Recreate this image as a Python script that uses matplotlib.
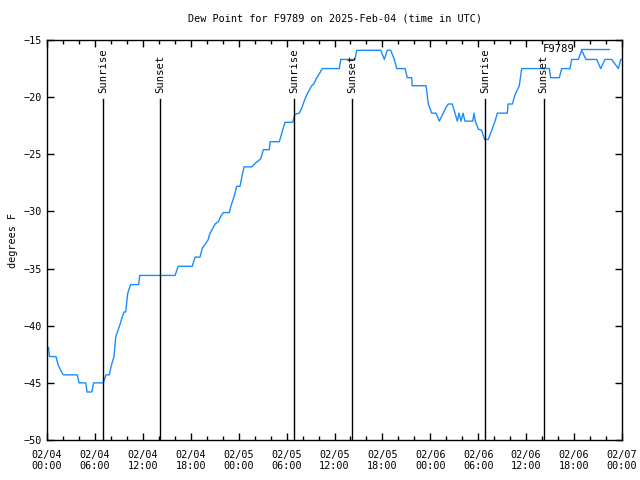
import matplotlib
matplotlib.use("Agg")
import matplotlib.pyplot as plt
import matplotlib.dates as mdates
from datetime import datetime, timedelta

start = datetime(2025, 2, 4, 0, 0)

# hours since 02/04 00:00 UTC, dew point in F
hours = [0.0, 0.19, 0.31, 1.13, 1.38, 1.63, 2.04, 3.79, 4.01, 4.85, 5.01, 5.60,
         5.85, 7.05, 7.25, 7.39, 7.80, 8.01, 8.39, 8.60, 8.89, 9.14, 9.39, 9.64,
         9.85, 10.1, 10.27, 10.48, 11.48, 11.61, 16.03, 16.44, 18.19, 18.53, 19.16,
         19.45, 19.78, 20.16, 20.41, 20.75, 21.04, 21.45, 21.79, 22.08, 22.83, 23.04,
         23.45, 23.75, 24.17, 24.42, 24.67, 25.67, 26.05, 26.42, 26.76, 27.09, 27.84,
         27.93, 29.09, 29.43, 29.80, 30.77, 31.05, 31.59, 31.93, 32.18, 32.52, 33.15,
         33.44, 33.77, 34.06, 34.47, 36.6, 36.78, 38.57, 38.78, 41.79, 42.24, 42.61,
         43.04, 43.49, 43.79, 44.83, 45.12, 45.67, 45.71, 47.46, 47.75, 48.17, 48.71,
         49.12, 49.62, 49.96, 50.25, 50.75, 51.09, 51.38, 51.59, 51.84, 52.09, 52.34,
         53.31, 53.47, 53.63, 54.01, 54.43, 54.80, 55.26, 55.69, 56.10, 56.39, 57.64,
         57.73, 58.27, 58.60, 59.14, 59.44, 62.90, 63.07, 64.15, 64.45, 65.49, 65.70,
         66.53, 66.95, 67.49, 68.83, 69.33, 69.87, 70.71, 71.54, 71.84, 72.0]
dewpt = [-41.9, -41.9, -42.7, -42.7, -43.4, -43.8, -44.3, -44.3, -45.0, -45.0, -45.8, -45.8,
         -45.0, -45.0, -44.6, -44.3, -44.3, -43.6, -42.7, -41.0, -40.4, -39.9, -39.3, -38.8,
         -38.8, -37.2, -36.8, -36.4, -36.4, -35.6, -35.6, -34.8, -34.8, -34.0, -34.0,
         -33.2, -32.9, -32.5, -31.9, -31.5, -31.1, -30.9, -30.4, -30.1, -30.1, -29.5,
         -28.65, -27.8, -27.8, -26.9, -26.1, -26.1, -25.8, -25.6, -25.4, -24.6, -24.6,
         -23.9, -23.9, -23.1, -22.2, -22.2, -21.5, -21.4, -20.9, -20.4, -19.8, -19.0,
         -18.8, -18.3, -18.0, -17.5, -17.5, -16.7, -16.7, -15.9, -15.9, -16.7, -15.9,
         -15.9, -16.7, -17.5, -17.5, -18.3, -18.3, -19.0, -19.0, -20.6, -21.4, -21.4,
         -22.1, -21.4, -20.9, -20.6, -20.6, -21.4, -22.1, -21.4, -22.1, -21.4, -22.1,
         -22.1, -21.4, -22.1, -22.8, -22.9, -23.7, -23.7, -22.9, -22.1, -21.4, -21.4,
         -20.6, -20.6, -19.8, -19.0, -17.5, -17.5, -18.3, -18.3, -17.5, -17.5, -16.7,
         -16.7, -15.9, -16.7, -16.7, -17.5, -16.7, -16.7, -17.5, -16.7, -16.7]

sun_names = ["Sunrise", "Sunset", "Sunrise", "Sunset", "Sunrise", "Sunset"]
sun_hours = [7.0, 14.15, 30.93, 38.2, 54.85, 62.2]

times = [start + timedelta(hours=h) for h in hours]
sun_times = [start + timedelta(hours=h) for h in sun_hours]

plt.rcParams['font.family'] = ['DejaVu Sans Mono']
plt.rcParams['font.size'] = 7.3

fig = plt.figure(figsize=(6.4, 4.8), dpi=100)
ax = fig.add_axes([47 / 640, 40 / 480, 575 / 640, 400 / 480])

line_color = "#1a8cff"
ax.plot(times, dewpt, color=line_color, lw=1.0)

for name, t in zip(sun_names, sun_times):
    ax.plot([t, t], [-50, -20.2], color="black", lw=1.0)
    ax.text(t, -19.6, name, rotation=90, ha="center", va="bottom", fontsize=7.6)

ax.set_xlim(start, start + timedelta(hours=72))
ax.set_ylim(-50, -15)
ax.set_yticks(range(-50, -14, 5))
ax.xaxis.set_major_locator(mdates.HourLocator(byhour=[0, 6, 12, 18]))
ax.xaxis.set_minor_locator(mdates.HourLocator(byhour=range(0, 24, 2)))
ax.xaxis.set_major_formatter(mdates.DateFormatter("%m/%d\n%H:%M"))
ax.tick_params(which="major", direction="in", length=5, top=True, right=True, width=1)
ax.tick_params(which="minor", direction="in", length=3, top=True, right=False, width=1)
ax.tick_params(axis="x", pad=7)
for s in ax.spines.values():
    s.set_linewidth(1.0)

ax.set_ylabel("degrees F")
ax.set_title("Dew Point for F9789 on 2025-Feb-04 (time in UTC)", fontsize=7.3, pad=13)

# gnuplot-style key: label then sample line
ax.text(0.918, 0.9775, "F9789", transform=ax.transAxes, ha="right", va="center",
        fontsize=7.6)
ax.plot([0.9287, 0.9774], [0.9775, 0.9775], transform=ax.transAxes,
        color=line_color, lw=1.0)

fig.savefig("out.png", dpi=100)
